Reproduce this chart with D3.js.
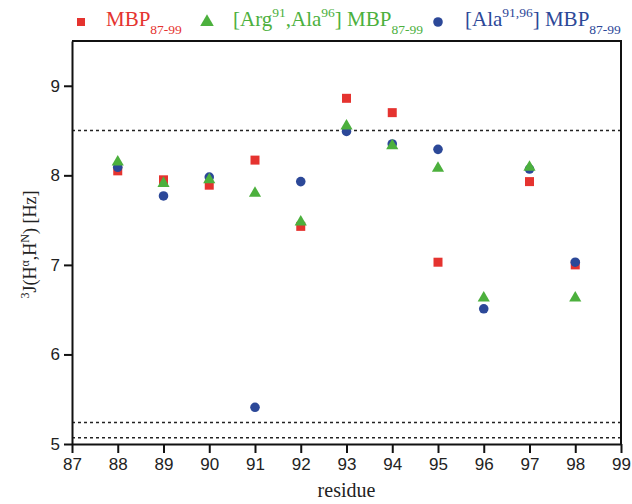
<!DOCTYPE html>
<html>
<head>
<meta charset="utf-8">
<script src="https://cdn.jsdelivr.net/npm/d3@7"></script>
<style>
  body { margin: 0; background: #fff; }
  .tick text { font-family: "Liberation Sans", Arial, sans-serif; font-size: 17px; fill: #222; }
  .axis path, .axis line { stroke: #111; stroke-width: 2; }
</style>
</head>
<body>
<div id="chart"></div>
<script>
// residues and coupling constants (Hz)
let residues = [88, 89, 90, 91, 92, 93, 94, 95, 96, 97, 98];
let mbp      = [8.05, 7.95, 7.89, 8.17, 7.43, 8.86, 8.70, 7.03, null, 7.93, 7.00];
let argAla   = [8.15, 7.91, 7.95, 7.80, 7.48, 8.55, 8.33, 8.08, 6.63, 8.09, 6.63];
let alaAla   = [8.09, 7.77, 7.98, 5.41, 7.93, 8.49, 8.35, 8.29, 6.51, 8.07, 7.03];
let refLines = [8.5, 5.24, 5.07];
let xTicks = [87, 88, 89, 90, 91, 92, 93, 94, 95, 96, 97, 98, 99];
let yTicks = [5, 6, 7, 8, 9];

let width = 632, height = 504;
let padL = 72, padR = 621, padT = 41, padB = 444;

let svg = d3.select("#chart").append("svg")
  .attr("width", width).attr("height", height);

let x = d3.scaleLinear().domain([87, 99]).range([padL, padR]);
let y = d3.scaleLinear().domain([5, 9.5]).range([padB, padT]);

// dashed reference lines
svg.selectAll(".ref").data(refLines).enter().append("line")
  .attr("x1", padL).attr("x2", padR)
  .attr("y1", d => y(d)).attr("y2", d => y(d))
  .attr("stroke", "#222").attr("stroke-width", 1.5)
  .attr("stroke-dasharray", "3,3");

// frame top + right
svg.append("path")
  .attr("d", "M" + padL + "," + padT + "H" + padR + "V" + padB)
  .attr("fill", "none").attr("stroke", "#111").attr("stroke-width", 2);

let xAxis = d3.axisBottom(x).tickValues(xTicks).tickFormat(d3.format("d"))
  .tickSizeInner(9).tickSizeOuter(0).tickPadding(5);
let yAxis = d3.axisLeft(y).tickValues(yTicks).tickFormat(d3.format("d"))
  .tickSizeInner(8).tickSizeOuter(0).tickPadding(4);

svg.append("g").attr("class", "axis")
  .attr("transform", "translate(0," + padB + ")").call(xAxis);
svg.append("g").attr("class", "axis")
  .attr("transform", "translate(" + padL + ",0)").call(yAxis);

let series = [
  { vals: mbp,    color: "#e5332f", sym: d3.symbolSquare,   size: 81 },
  { vals: alaAla, color: "#2c4898", sym: d3.symbolCircle,   size: 72 },
  { vals: argAla, color: "#4cb03d", sym: d3.symbolTriangle, size: 64 }
];

series.forEach(function(s){
  let pts = residues.map((r, i) => [r, s.vals[i]]).filter(d => d[1] != null);
  svg.append("g").selectAll("path").data(pts).enter().append("path")
    .attr("d", d3.symbol().type(s.sym).size(s.size))
    .attr("transform", d => "translate(" + x(d[0]) + "," + y(d[1]) + ")")
    .attr("fill", s.color);
});

// axis titles
svg.append("text").text("residue")
  .attr("x", (padL + padR) / 2).attr("y", 497)
  .attr("text-anchor", "middle")
  .style("font-family", "'Liberation Serif', 'Times New Roman', serif")
  .style("font-size", "20px").attr("fill", "#222");

let yl = svg.append("text")
  .attr("transform", "translate(36," + ((padT + padB) / 2 + 2) + ") rotate(-90)")
  .attr("text-anchor", "middle")
  .style("font-family", "'Liberation Serif', 'Times New Roman', serif")
  .style("font-size", "18px").attr("fill", "#222");
yl.append("tspan").text("3").attr("font-size", "12px").attr("dy", -7);
yl.append("tspan").text("J(H").attr("dy", 7);
yl.append("tspan").text("α").attr("font-size", "12px").attr("dy", -7);
yl.append("tspan").text(",H").attr("dy", 7);
yl.append("tspan").text("N").attr("font-size", "12px").attr("dy", -7);
yl.append("tspan").text(") [Hz]").attr("dy", 7);

// legend
let legend = [
  { color: "#e5332f", sym: d3.symbolSquare, size: 64, mx: 81, tx: 106,
    parts: [["MBP", 0], ["87-99", 1]] },
  { color: "#4cb03d", sym: d3.symbolTriangle, size: 80, mx: 207, tx: 233,
    parts: [["[Arg", 0], ["91", -1], [",Ala", 0], ["96", -1], ["] MBP", 0], ["87-99", 1]] },
  { color: "#2c4898", sym: d3.symbolCircle, size: 72, mx: 438, tx: 465,
    parts: [["[Ala", 0], ["91,96", -1], ["] MBP", 0], ["87-99", 1]] }
];

legend.forEach(function(l){
  svg.append("path")
    .attr("d", d3.symbol().type(l.sym).size(l.size))
    .attr("transform", "translate(" + l.mx + ",22)")
    .attr("fill", l.color);
  let t = svg.append("text").attr("x", l.tx).attr("y", 26)
    .style("font-family", "'Liberation Serif', 'Times New Roman', serif")
    .style("font-size", "21px").attr("fill", l.color);
  let shift = 0;
  l.parts.forEach(function(p){
    let target = p[1] == -1 ? -9 : (p[1] == 1 ? 8 : 0);
    let ts = t.append("tspan").text(p[0]).attr("dy", target - shift);
    if (p[1] != 0) ts.attr("font-size", "13.5px");
    shift = target;
  });
});
</script>
</body>
</html>
